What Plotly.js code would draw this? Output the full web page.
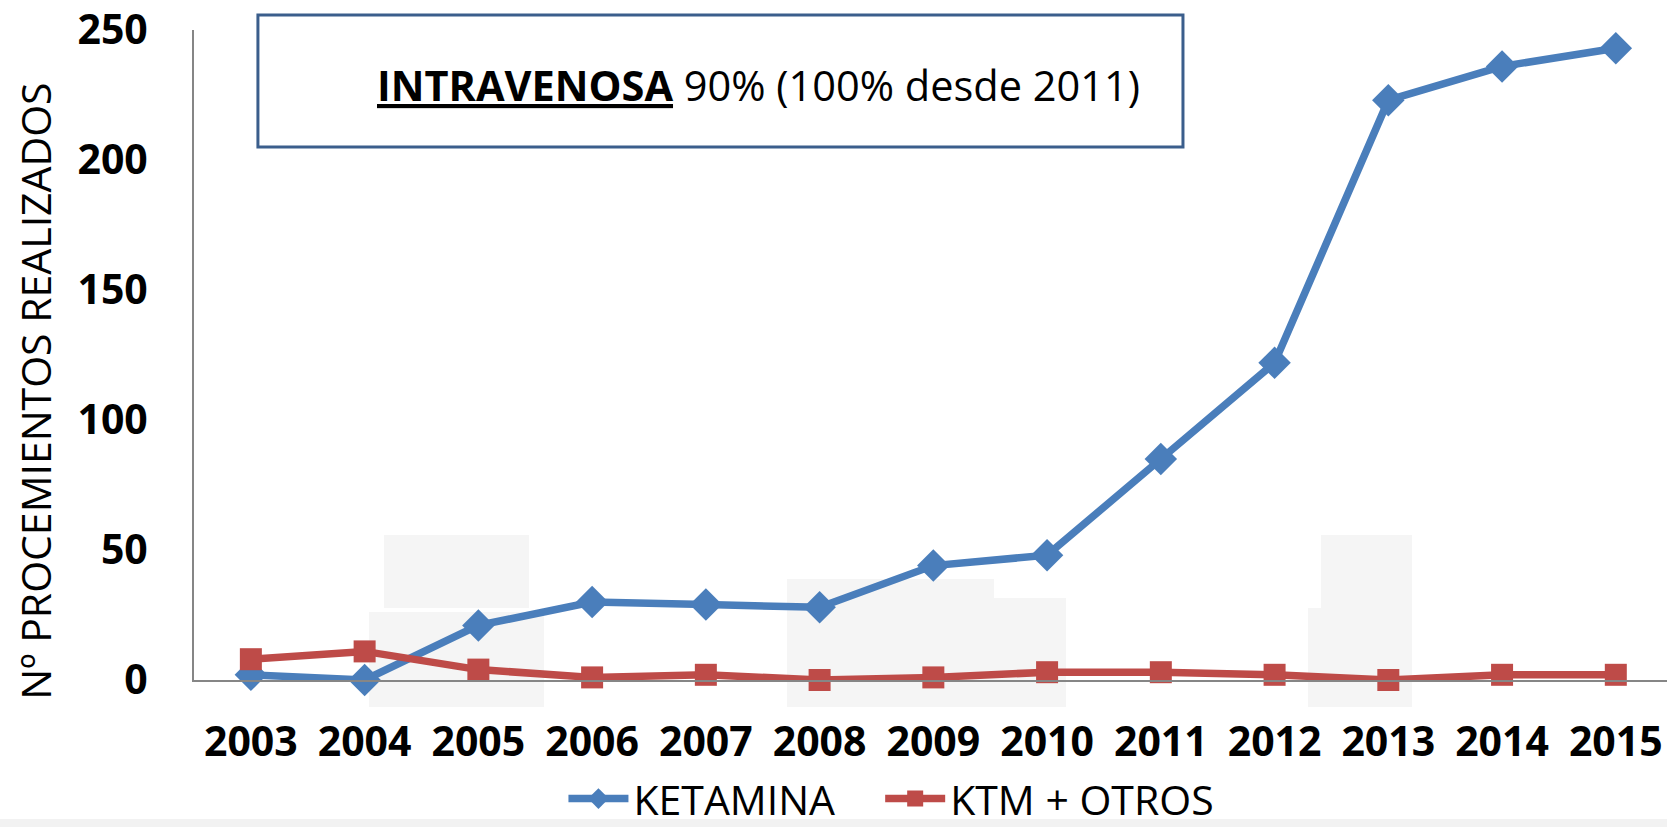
<!DOCTYPE html>
<html>
<head>
<meta charset="utf-8">
<script src="https://cdn.plot.ly/plotly-3.0.1.min.js"></script>
<style>html,body{margin:0;padding:0;background:#fff;}#chart{width:1667px;height:827px;}</style>
</head>
<body>
<div id="chart"></div>
<script>
const years = ['2003','2004','2005','2006','2007','2008','2009','2010','2011','2012','2013','2014','2015'];
const ketamina = [2, 0, 21, 30, 29, 28, 44, 48, 85, 122, 223, 236, 243];
const ktmOtros = [8, 11, 4, 1, 2, 0, 1, 3, 3, 2, 0, 2, 2];
const seriesNames = ['KETAMINA', 'KTM + OTROS'];
const yTicks = [0, 50, 100, 150, 200, 250];
const boxText = '<u><b>INTRAVENOSA</b></u> 90% (100% desde 2011)';
const yTitle = 'Nº PROCEMIENTOS REALIZADOS';

const FONT = '"Open Sans", "Noto Sans", sans-serif';

const traces = [
  {
    x: years, y: ketamina, name: seriesNames[0], type: 'scatter', mode: 'lines+markers',
    line: {color: '#4a7ebb', width: 7.5},
    marker: {symbol: 'diamond', size: 25, color: '#4a7ebb'},
    cliponaxis: false, legend: 'legend'
  },
  {
    x: years, y: ktmOtros, name: seriesNames[1], type: 'scatter', mode: 'lines+markers',
    line: {color: '#be4b48', width: 7.5},
    marker: {symbol: 'square', size: 22, color: '#be4b48'},
    cliponaxis: false, legend: 'legend2'
  }
];

const faint = '#f5f5f5';
const rect = (x0, x1, y0, y1) => ({type: 'rect', xref: 'paper', yref: 'paper', x0, x1, y0, y1,
  fillcolor: faint, line: {width: 0}, layer: 'below'});

const legendBase = {
  orientation: 'h', xref: 'container', yref: 'container',
  xanchor: 'left', y: 0.034, yanchor: 'middle',
  font: {family: FONT, size: 41, color: '#000'},
  itemwidth: 60, bgcolor: 'rgba(0,0,0,0)'
};

const layout = {
  width: 1667, height: 827,
  margin: {l: 194, r: 0, t: 30, b: 147, autoexpand: false},
  paper_bgcolor: '#ffffff', plot_bgcolor: 'rgba(0,0,0,0)',
  font: {family: FONT, color: '#000'},
  showlegend: true,
  legend: Object.assign({}, legendBase, {x: 0.338}),
  legend2: Object.assign({}, legendBase, {x: 0.528}),
  xaxis: {
    type: 'category', range: [-0.5, 12.45],
    showline: true, linecolor: '#868686', linewidth: 2,
    showgrid: false, zeroline: false, ticks: '',
    tickfont: {family: FONT, size: 41, color: '#000', weight: 'bold'},
    ticklabelstandoff: 25, fixedrange: true, automargin: false
  },
  yaxis: {
    range: [0, 250], tickvals: yTicks, ticktext: yTicks.map(String),
    showline: true, linecolor: '#868686', linewidth: 2,
    showgrid: false, zeroline: false, ticks: '',
    tickfont: {family: FONT, size: 41, color: '#000', weight: 'bold'},
    ticklabelstandoff: 36, fixedrange: true, automargin: false
  },
  shapes: [
    rect(0.129, 0.2274, 0.1108, 0.2231),
    rect(0.1188, 0.2376, -0.0415, 0.1046),
    rect(0.4026, 0.5431, -0.0415, 0.1554),
    rect(0.5431, 0.592, -0.0415, 0.1262),
    rect(0.7651, 0.8269, 0.1108, 0.2231),
    rect(0.7563, 0.8269, -0.0415, 0.1108),
    {type: 'rect', xref: 'paper', yref: 'paper', x0: -0.2, x1: 1.05, y0: -0.2262, y1: -0.2138,
     fillcolor: '#f2f2f2', line: {width: 0}, layer: 'below'},
    {type: 'rect', xref: 'paper', yref: 'paper', x0: 0.0434, x1: 0.6714, y0: 0.82, y1: 1.023,
     fillcolor: '#ffffff', line: {color: '#3b5e8c', width: 3}, layer: 'above'}
  ],
  annotations: [
    {text: boxText, xref: 'paper', yref: 'paper', x: 0.3835, y: 0.915,
     xanchor: 'center', yanchor: 'middle', showarrow: false,
     font: {family: FONT, size: 41.5, color: '#000'}},
    {text: yTitle, xref: 'paper', yref: 'paper', x: -0.108, y: 0.445,
     xanchor: 'center', yanchor: 'middle', showarrow: false, textangle: -90,
     font: {family: FONT, size: 41, color: '#000'}}
  ]
};

Plotly.newPlot('chart', traces, layout, {displayModeBar: false, staticPlot: true});
</script>
</body>
</html>
